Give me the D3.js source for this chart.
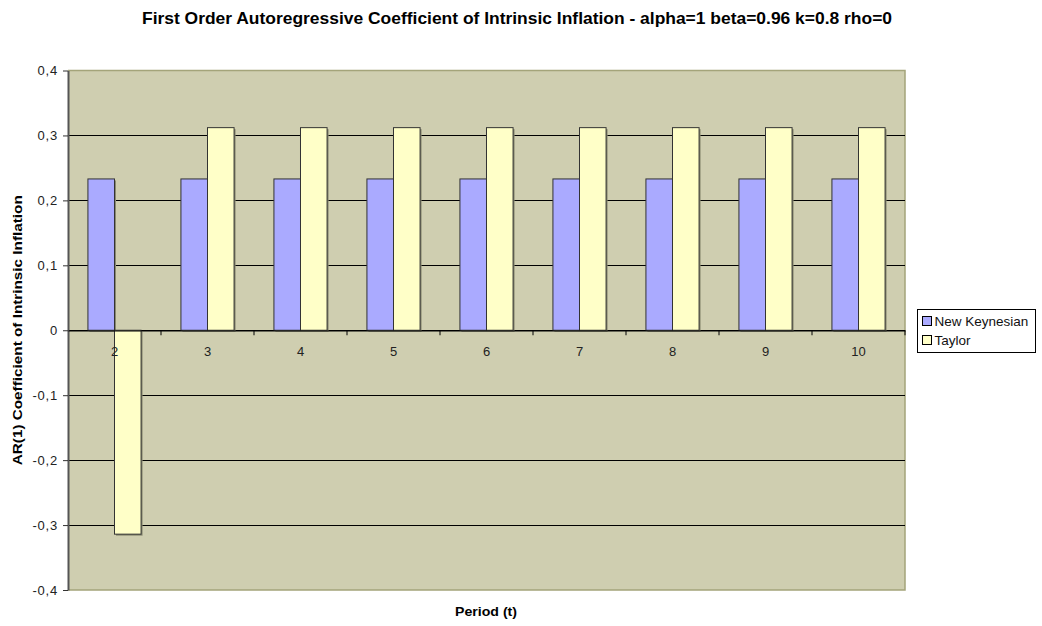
<!DOCTYPE html>
<html>
<head>
<meta charset="utf-8">
<script src="https://cdn.jsdelivr.net/npm/d3@7"></script>
<style>
  body { margin: 0; background: #fff; }
  svg { font-family: "Liberation Sans", Arial, sans-serif; }
</style>
</head>
<body>
<svg width="1042" height="626"></svg>
<script>
const periods = ["2", "3", "4", "5", "6", "7", "8", "9", "10"];
const newKeynesian = [0.233, 0.233, 0.233, 0.233, 0.233, 0.233, 0.233, 0.233, 0.233];
const taylor = [-0.314, 0.312, 0.312, 0.312, 0.312, 0.312, 0.312, 0.312, 0.312];
const seriesNames = ["New Keynesian", "Taylor"];
const seriesColors = ["#aaaaff", "#ffffc8"];
const yTicks = [-0.4, -0.3, -0.2, -0.1, 0, 0.1, 0.2, 0.3, 0.4];

const svg = d3.select("svg");
const plot = { left: 68, top: 70.5, right: 905, bottom: 590 };
const font = "Liberation Sans, Arial, sans-serif";

const x = d3.scaleBand().domain(periods).range([plot.left, plot.right]).paddingInner(0).paddingOuter(0);
const y = d3.scaleLinear().domain([-0.4, 0.4]).range([plot.bottom, plot.top]);
const bw = x.bandwidth() / 3.5;
const fmt = (v) => (v === 0 ? "0" : d3.format(".1f")(v).replace(".", ",").replace("−", "-"));

// plot area
svg.append("rect")
  .attr("x", plot.left).attr("y", plot.top)
  .attr("width", plot.right - plot.left).attr("height", plot.bottom - plot.top)
  .attr("fill", "#cfceb0");
svg.append("path")
  .attr("d", `M${plot.left},${plot.top}H${plot.right}V${plot.bottom}H${plot.left}`)
  .attr("fill", "none").attr("stroke", "#a4a47a").attr("stroke-width", 1.5);

// gridlines
svg.append("g").selectAll("line")
  .data(yTicks.filter((d) => d !== -0.4 && d !== 0.4))
  .join("line")
  .attr("x1", plot.left).attr("x2", plot.right)
  .attr("y1", (d) => Math.round(y(d)) + 0.5).attr("y2", (d) => Math.round(y(d)) + 0.5)
  .attr("stroke", "#000").attr("stroke-width", 1);

// bars
const rows = periods.map((p, i) => ({ p, vals: [newKeynesian[i], taylor[i]] }));
const groups = svg.append("g").selectAll("g").data(rows).join("g")
  .attr("transform", (d) => `translate(${x(d.p) + (x.bandwidth() - 2 * bw) / 2},0)`);
groups.selectAll("rect.shadow")
  .data((d) => d.vals)
  .join("rect")
  .attr("class", "shadow")
  .attr("x", (d, i) => i * bw + 1.5)
  .attr("y", (d) => Math.min(y(d), y(0)) + 1.5)
  .attr("width", bw)
  .attr("height", (d) => Math.abs(y(d) - y(0)))
  .attr("fill", "#8a8a70");
groups.selectAll("rect.bar")
  .data((d) => d.vals)
  .join("rect")
  .attr("class", "bar")
  .attr("x", (d, i) => i * bw)
  .attr("y", (d) => Math.min(y(d), y(0)))
  .attr("width", bw)
  .attr("height", (d) => Math.abs(y(d) - y(0)))
  .attr("fill", (d, i) => seriesColors[i])
  .attr("stroke", "#333").attr("stroke-width", 1);

// y axis
const yAxis = svg.append("g")
  .attr("transform", `translate(${plot.left},0)`)
  .call(d3.axisLeft(y).tickValues(yTicks).tickFormat(fmt).tickSize(5).tickSizeOuter(0));
yAxis.select(".domain").attr("stroke", "#555").attr("stroke-width", 2);
yAxis.selectAll(".tick line").attr("stroke", "#333");
yAxis.selectAll("text").attr("font-size", 13).attr("fill", "#222").attr("x", -10)
  .attr("letter-spacing", 0.8).attr("font-family", font);

// category axis at zero
const xAxis = svg.append("g")
  .attr("transform", `translate(0,${Math.round(y(0)) + 0.5})`)
  .call(d3.axisBottom(x).tickSize(0).tickSizeOuter(0));
xAxis.select(".domain").attr("stroke", "#000");
xAxis.selectAll("text").attr("font-size", 13).attr("fill", "#222").attr("dy", "1.7em")
  .attr("font-family", font);
svg.append("g").selectAll("line")
  .data(periods.slice(1).concat(["end"]))
  .join("line")
  .attr("x1", (d) => (d === "end" ? plot.right : x(d)))
  .attr("x2", (d) => (d === "end" ? plot.right : x(d)))
  .attr("y1", y(0)).attr("y2", y(0) + 5)
  .attr("stroke", "#000");

// titles
svg.append("text")
  .attr("x", 517).attr("y", 24)
  .attr("text-anchor", "middle").attr("font-weight", "bold").attr("font-size", 16.5)
  .attr("textLength", 750).attr("lengthAdjust", "spacingAndGlyphs")
  .text("First Order Autoregressive Coefficient of Intrinsic Inflation - alpha=1 beta=0.96 k=0.8 rho=0");
svg.append("text")
  .attr("x", 486).attr("y", 616)
  .attr("text-anchor", "middle").attr("font-weight", "bold").attr("font-size", 13)
  .attr("textLength", 62).attr("lengthAdjust", "spacingAndGlyphs")
  .text("Period (t)");
svg.append("text")
  .attr("transform", `translate(22,${y(0)}) rotate(-90)`)
  .attr("text-anchor", "middle").attr("font-weight", "bold").attr("font-size", 13.5)
  .attr("textLength", 270).attr("lengthAdjust", "spacingAndGlyphs")
  .text("AR(1) Coefficient of Intrinsic Inflation");

// legend
const legend = svg.append("g").attr("transform", "translate(917,309)");
legend.append("rect")
  .attr("x", 0.5).attr("y", 0.5).attr("width", 118).attr("height", 43)
  .attr("fill", "#fff").attr("stroke", "#000");
const items = legend.selectAll("g.item").data(seriesNames).join("g")
  .attr("class", "item")
  .attr("transform", (d, i) => `translate(5,${6 + i * 19})`);
items.append("rect")
  .attr("x", 0.5).attr("y", 1.5).attr("width", 9).attr("height", 9)
  .attr("fill", (d, i) => seriesColors[i]).attr("stroke", "#000");
items.append("text")
  .attr("x", 12.5).attr("y", 11)
  .attr("font-size", 13.5).attr("fill", "#111")
  .text((d) => d);
</script>
</body>
</html>
